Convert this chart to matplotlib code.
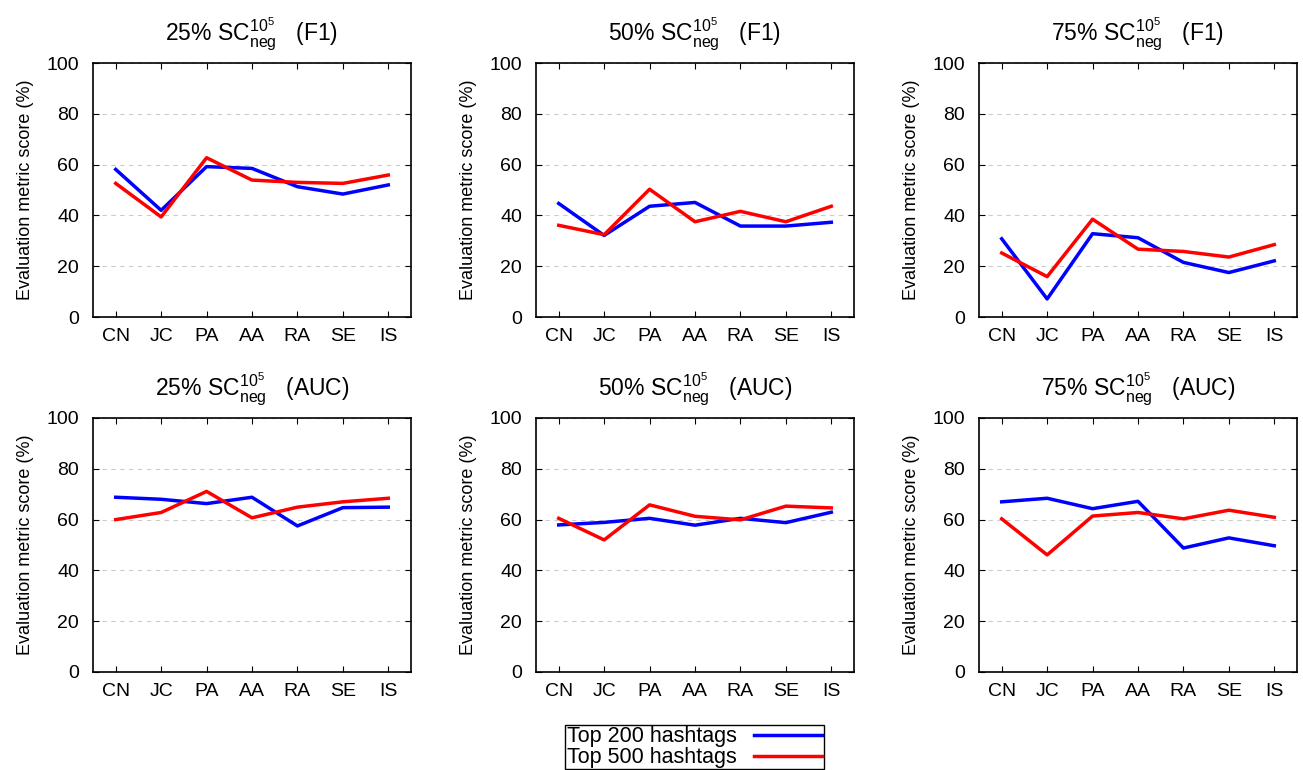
import matplotlib
matplotlib.use("Agg")
import matplotlib.pyplot as plt

plt.rcParams["font.family"] = ["Liberation Sans", "DejaVu Sans"]
plt.rcParams["mathtext.fontset"] = "custom"
plt.rcParams["mathtext.rm"] = "Liberation Sans"
plt.rcParams["mathtext.it"] = "Liberation Sans"

methods = ["CN", "JC", "PA", "AA", "RA", "SE", "IS"]
pcts = ["25%", "50%", "75%"]
metrics = ["F1", "AUC"]

# top 200 hashtags
f1_200_25 = [58.1, 42.0, 59.2, 58.5, 51.3, 48.4, 52.0]
f1_200_50 = [44.7, 32.1, 43.6, 45.1, 35.8, 35.8, 37.3]
f1_200_75 = [30.8, 7.1, 32.8, 31.2, 21.5, 17.5, 22.1]
auc_200_25 = [68.8, 68.0, 66.3, 68.8, 57.5, 64.7, 64.9]
auc_200_50 = [57.9, 58.9, 60.5, 57.8, 60.5, 58.8, 62.9]
auc_200_75 = [67.0, 68.4, 64.3, 67.2, 48.8, 52.8, 49.7]

# top 500 hashtags
f1_500_25 = [52.6, 39.4, 62.7, 53.9, 53.0, 52.6, 55.9]
f1_500_50 = [36.1, 32.4, 50.3, 37.5, 41.6, 37.5, 43.6]
f1_500_75 = [25.2, 15.9, 38.5, 26.7, 25.8, 23.6, 28.5]
auc_500_25 = [60.0, 62.8, 71.1, 60.7, 64.9, 67.0, 68.4]
auc_500_50 = [60.5, 52.0, 65.8, 61.3, 59.9, 65.3, 64.6]
auc_500_75 = [60.3, 46.1, 61.4, 62.8, 60.3, 63.7, 60.9]

top200 = [[f1_200_25, f1_200_50, f1_200_75], [auc_200_25, auc_200_50, auc_200_75]]
top500 = [[f1_500_25, f1_500_50, f1_500_75], [auc_500_25, auc_500_50, auc_500_75]]

fig = plt.figure(figsize=(13.03, 7.7), dpi=100)

W, H = 1303, 770
lefts = [93, 536, 979]
tops = [63, 418]
aw, ah = 318, 254

x = list(range(len(methods)))
lines = []
for r in range(2):
    for c in range(3):
        ax = fig.add_axes([lefts[c] / W, 1 - (tops[r] + ah) / H, aw / W, ah / H])
        l1, = ax.plot(x, top200[r][c], color="#0000ff", lw=2.5)
        l2, = ax.plot(x, top500[r][c], color="#ff0000", lw=2.5)
        lines = [l1, l2]
        ax.set_xlim(-0.5, 6.5)
        ax.set_ylim(0, 100)
        ax.set_xticks(x)
        ax.set_xticklabels(methods)
        ax.set_yticks(range(0, 101, 20))
        ax.tick_params(direction="in", top=True, right=True, labelsize=14, length=4)
        ax.tick_params(axis="x", pad=8)
        ax.tick_params(axis="y", pad=10)
        ax.yaxis.grid(True, ls=(0, (4, 4)), color="#cccccc", lw=0.8)
        ax.set_axisbelow(True)
        ax.set_ylabel("Evaluation metric score (%)", fontsize=13, labelpad=9)
        ax.set_title(pcts[c] + r" SC$_{\mathrm{neg}}^{10^5}$   (" + metrics[r] + ")",
                     fontsize=16.5, pad=16)
        for s in ax.spines.values():
            s.set_linewidth(1.2)

fig.legend(lines, ["Top 200 hashtags", "Top 500 hashtags"], loc="upper center",
           bbox_to_anchor=(0.533, 1 - 725 / H), markerfirst=False, fontsize=15.5,
           frameon=True, fancybox=False, edgecolor="black", framealpha=1,
           borderpad=0.05, labelspacing=0.0, handlelength=3.2, handletextpad=0.8,
           borderaxespad=0)

fig.savefig("out.png", dpi=100)
